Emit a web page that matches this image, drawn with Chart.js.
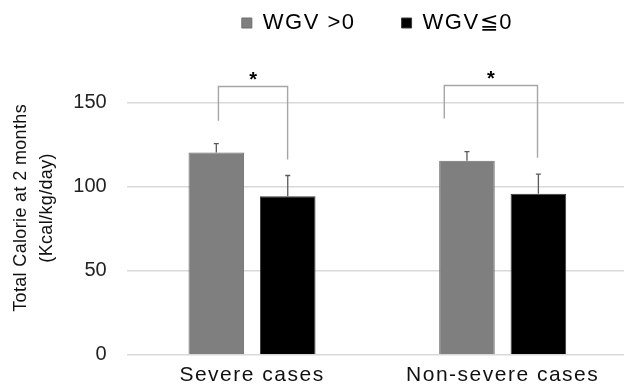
<!DOCTYPE html>
<html>
<head>
<meta charset="utf-8">
<script src="https://cdn.jsdelivr.net/npm/chart.js@4"></script>
<style>
  html, body { margin: 0; padding: 0; background: #fff; overflow: hidden; width: 624px; height: 389px; }
  #wrap { position: relative; width: 628px; height: 430px; margin-top: -34px; }
</style>
</head>
<body>
<div id="wrap"><canvas id="c"></canvas></div>
<script>
// ---- data ----
const categories = ['Severe cases', 'Non-severe cases'];
const seriesNames = ['WGV >0', 'WGV\u22660'];
const wgvPositive = [120.5, 115.6];
const wgvNonPositive = [94.5, 95.9];
const errPositive = [5.3, 5.4];
const errNonPositive = [12.3, 11.7];
const yTicks = [0, 50, 100, 150];
const axisTitle = ['Total Calorie at 2 months', '(Kcal/kg/day)'];
// significance brackets (category-index offsets and values)
const bracketLeftOffset = [-0.134, -0.233];
const bracketRightOffset = [0.142, 0.139];
const bracketTop = [159.8, 160.4];
const bracketLeftEnd = [139.4, 140.8];
const bracketRightEnd = [116.3, 117.4];
const bracketLabel = ['*', '*'];

const FONT = '"Liberation Sans", Arial, sans-serif';

function withSpacing(obj, method, spacing) {
  if (!obj || obj['_ls_' + method]) return;
  const orig = obj[method];
  obj['_ls_' + method] = true;
  obj[method] = function (...args) {
    const ctx = this.ctx;
    const prev = ctx.letterSpacing;
    ctx.letterSpacing = spacing;
    try { return orig.apply(this, args); } finally { ctx.letterSpacing = prev; }
  };
}

const errorBarPlugin = {
  id: 'errorBars',
  afterDatasetsDraw(chart) {
    const ctx = chart.ctx;
    const y = chart.scales.y;
    const errs = [errPositive, errNonPositive];
    ctx.save();
    ctx.strokeStyle = '#5a5a5a';
    ctx.lineWidth = 1.3;
    chart.data.datasets.forEach((ds, di) => {
      const meta = chart.getDatasetMeta(di);
      meta.data.forEach((bar, i) => {
        const v = ds.data[i];
        const yt = y.getPixelForValue(v + errs[di][i]);
        const yb = y.getPixelForValue(v);
        ctx.beginPath();
        ctx.moveTo(bar.x, yb);
        ctx.lineTo(bar.x, yt);
        ctx.moveTo(bar.x - 2.5, yt);
        ctx.lineTo(bar.x + 2.5, yt);
        ctx.stroke();
      });
    });
    ctx.restore();
  }
};

const bracketPlugin = {
  id: 'brackets',
  afterDatasetsDraw(chart) {
    const ctx = chart.ctx;
    const x = chart.scales.x, y = chart.scales.y;
    ctx.save();
    ctx.strokeStyle = '#a6a6a6';
    ctx.lineWidth = 1.4;
    categories.forEach((c, i) => {
      const xl = x.getPixelForValue(i + bracketLeftOffset[i]);
      const xr = x.getPixelForValue(i + bracketRightOffset[i]);
      const yt = y.getPixelForValue(bracketTop[i]);
      ctx.beginPath();
      ctx.moveTo(xl, y.getPixelForValue(bracketLeftEnd[i]));
      ctx.lineTo(xl, yt);
      ctx.lineTo(xr, yt);
      ctx.lineTo(xr, y.getPixelForValue(bracketRightEnd[i]));
      ctx.stroke();
      ctx.fillStyle = '#000';
      ctx.font = 'bold 20px ' + FONT;
      ctx.textAlign = 'center';
      ctx.textBaseline = 'alphabetic';
      ctx.fillText(bracketLabel[i], (xl + xr) / 2, yt - 0.5);
    });
    ctx.restore();
  }
};

const layoutTweaks = {
  id: 'layoutTweaks',
  beforeInit(chart) {
    const legend = chart.legend;
    const fit = legend.fit;
    legend.fit = function () {
      const ctx = this.ctx;
      const prev = ctx.letterSpacing;
      ctx.letterSpacing = '1.5px';
      try { fit.apply(this, arguments); } finally { ctx.letterSpacing = prev; }
      this.height = 95;
    };
    withSpacing(legend, 'draw', '1.5px');
  },
  afterLayout(chart) {
    // centre legend over the plot area
    const lg = chart.legend, ca = chart.chartArea;
    lg.left = ca.left;
    lg.right = ca.right;
    lg.width = ca.right - ca.left;
    withSpacing(chart.scales.x, 'drawLabels', '1.5px');
    withSpacing(chart.scales.y, 'drawTitle', '0.35px');
  }
};

new Chart(document.getElementById('c'), {
  type: 'bar',
  data: {
    labels: categories,
    datasets: [
      { label: seriesNames[0], data: wgvPositive, backgroundColor: '#7f7f7f', borderColor: '#6e6e6e', borderWidth: 1 },
      { label: seriesNames[1], data: wgvNonPositive, backgroundColor: '#000000', borderColor: '#3a3a3a', borderWidth: 1 }
    ]
  },
  options: {
    responsive: true,
    maintainAspectRatio: false,
    animation: false,
    layout: { padding: { left: 8, right: 0, top: 0, bottom: 0 } },
    datasets: { bar: { categoryPercentage: 0.57, barPercentage: 0.778 } },
    plugins: {
      tooltip: { enabled: false },
      legend: {
        position: 'top',
        labels: {
          color: '#000',
          boxWidth: 10,
          boxHeight: 10,
          padding: 46,
          font: { family: FONT, size: 22 }
        }
      }
    },
    scales: {
      x: {
        grid: { display: false, drawTicks: false },
        border: { display: false },
        ticks: {
          color: '#111',
          padding: 8,
          font: { family: FONT, size: 21 }
        }
      },
      y: {
        min: 0,
        max: 175,
        afterBuildTicks(scale) {
          scale.ticks = yTicks.map(v => ({ value: v }));
        },
        afterFit(scale) {
          scale.width = 118.7;
        },
        border: { display: false },
        grid: { color: '#d9d9d9', lineWidth: 1.5, drawTicks: false },
        ticks: {
          color: '#222',
          padding: 20,
          font: { family: FONT, size: 20 }
        },
        title: {
          display: true,
          text: axisTitle,
          color: '#111',
          padding: { top: 0, bottom: 12.6 },
          font: { family: FONT, size: 18, lineHeight: 1.45 }
        }
      }
    }
  },
  plugins: [errorBarPlugin, bracketPlugin, layoutTweaks]
});
</script>
</body>
</html>
